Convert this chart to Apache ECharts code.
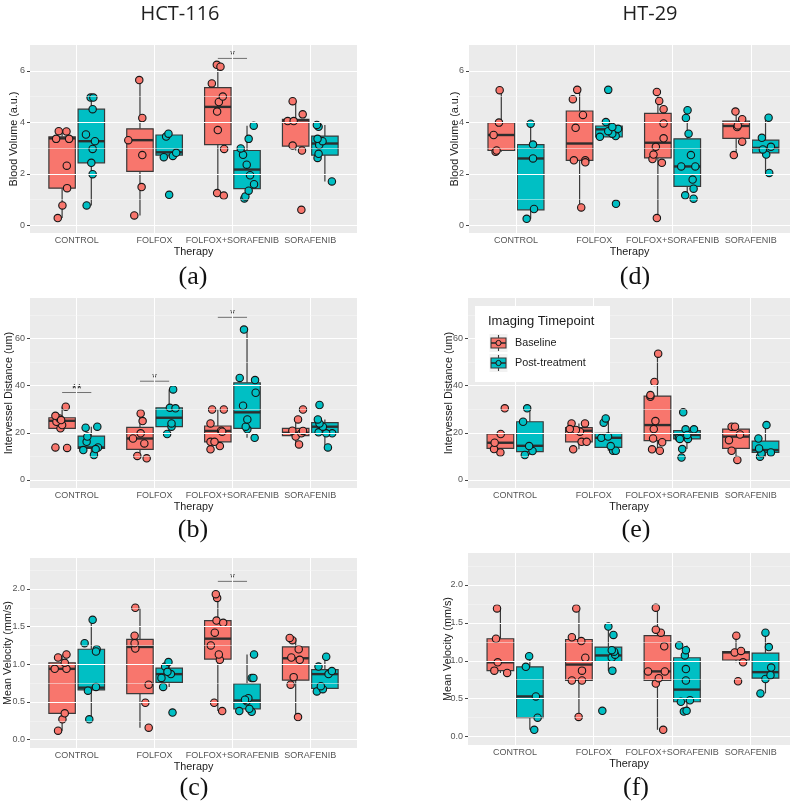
<!DOCTYPE html>
<html><head><meta charset="utf-8">
<script src="https://cdn.jsdelivr.net/npm/echarts@6/dist/echarts.min.js"></script>
<style>html,body{margin:0;padding:0;background:#fff}#c{width:801px;height:806px}</style>
</head><body><div id="c"></div><script>
const categories = ['CONTROL','FOLFOX','FOLFOX+SORAFENIB','SORAFENIB'];
const groups = ['Baseline','Post-treatment'];

const bloodTicks = [0,2,4,6];
const bloodMinor = [1,3,5];
const distTicks = [0,20,40,60];
const distMinor = [10,30,50,70];
const velTicks = [0,0.5,1,1.5,2];
const velMinor = [0.25,0.75,1.25,1.75,2.25];

// box stats per category: [lower whisker, Q1, median, Q3, upper whisker]
// points per category: [jitter (category units), value]

// (a) HCT-116 Blood Volume
const hctBloodBaseBox = [[0.29,1.45,3.38,3.44,3.66],[0.39,2.10,3.31,3.75,5.64],[1.16,3.14,4.60,5.35,6.23],[2.91,3.08,4.08,4.12,4.83]];
const hctBloodPostBox = [[0.78,2.43,3.27,4.51,4.96],[2.65,2.73,2.84,3.51,3.58],[1.05,1.43,2.17,2.91,3.87],[1.71,2.73,3.18,3.47,3.90]];
const hctBloodBasePts = [
 [[-0.056,0.29],[0.004,0.78],[0.064,1.45],[0.060,2.32],[-0.077,3.36],[-0.043,3.66],[0.056,3.65],[0.090,3.36]],
 [[-0.073,0.39],[0.021,1.49],[0.030,2.73],[-0.15,3.31],[0.030,4.17],[-0.009,5.64]],
 [[-0.009,1.26],[0.077,1.16],[0.081,2.97],[0,3.70],[-0.009,4.42],[0.013,4.79],[0.064,5.00],[-0.077,5.51],[-0.013,6.23],[0.034,6.16]],
 [[0.073,0.61],[0.081,2.91],[-0.039,3.10],[-0.103,4.05],[-0.026,4.05],[0.090,4.31],[-0.039,4.82]]
];
const hctBloodPostPts = [
 [[-0.060,0.78],[0.017,1.99],[0,2.43],[0.017,2.97],[0.047,3.27],[-0.069,3.53],[0.017,4.51],[-0.009,4.96],[0.026,4.96]],
 [[0,1.19],[-0.069,2.65],[0.047,2.70],[0.090,2.82],[-0.039,3.45],[-0.009,3.56]],
 [[-0.034,1.05],[-0.021,1.13],[0.021,1.35],[0.090,1.60],[0.039,1.95],[-0.004,2.36],[-0.051,2.74],[-0.081,2.99],[0.021,3.36],[0.086,3.87]],
 [[0.090,1.71],[-0.094,2.62],[-0.081,2.78],[-0.073,3.12],[-0.030,3.27],[-0.094,3.36],[-0.081,3.83],[-0.103,3.90]]
];
const hctBloodSig = [['FOLFOX+SORAFENIB',6.48,'*']];

// (d) HT-29 Blood Volume
const htBloodBaseBox = [[2.86,2.91,3.51,3.99,5.25],[0.70,2.53,3.18,4.44,5.29],[0.29,2.62,3.21,4.35,5.18],[2.73,3.38,3.86,4.05,4.44]];
const htBloodPostBox = [[0.26,0.61,2.60,3.14,3.95],[3.44,3.44,3.73,3.86,4.01],[1.04,1.52,2.29,3.36,4.47],[2.04,2.82,3.01,3.31,4.18]];
const htBloodBasePts = [
 [[-0.073,2.86],[-0.060,2.91],[-0.098,3.51],[-0.030,3.99],[-0.021,5.25]],
 [[0.021,0.70],[-0.073,2.53],[0.073,2.53],[0.073,2.45],[-0.051,3.79],[0.043,4.29],[-0.086,4.90],[-0.030,5.26]],
 [[-0.013,0.29],[0.051,2.43],[-0.069,2.58],[-0.056,2.75],[-0.026,3.05],[0.073,3.38],[0.073,3.96],[0.073,4.51],[0.017,4.83],[-0.013,5.18]],
 [[-0.030,2.73],[0.077,3.25],[0.013,3.82],[0.021,3.88],[0.077,4.12],[-0.009,4.42]]
];
const htBloodPostPts = [
 [[-0.051,0.26],[0.043,0.64],[0.030,2.60],[0.030,3.14],[0,3.95]],
 [[0.090,0.84],[-0.116,3.44],[0.086,3.47],[0.043,3.56],[-0.009,3.66],[0.116,3.75],[0.043,3.82],[-0.039,4.01],[-0.009,5.26]],
 [[0.081,1.04],[-0.026,1.17],[0.081,1.43],[0.069,1.78],[-0.077,2.29],[0.103,2.29],[0.047,2.73],[0.017,3.56],[-0.017,4.17],[0.004,4.47]],
 [[0.047,2.04],[0.009,2.75],[-0.034,2.95],[0.069,3.05],[-0.047,3.40],[0.039,4.18]]
];
const htBloodSig = [];

// (b) HCT-116 Intervessel Distance
const hctDistBaseBox = [[21.9,21.9,25.1,26.4,31.1],[9.2,13.0,17.6,22.3,28.2],[13.0,16.2,20.8,22.9,29.9],[15.1,18.8,20.0,21.9,25.7]];
const hctDistPostBox = [[10.6,13.4,13.8,18.6,22.6],[19.5,22.6,26.4,30.6,38.4],[17.9,21.9,28.7,41.2,63.8],[13.8,19.8,22.6,24.3,25.7]];
const hctDistBasePts = [
 [[-0.086,13.8],[0.064,13.6],[-0.021,21.9],[0,23.3],[-0.073,24.7],[-0.034,26.1],[-0.086,27.2],[0.047,31.1],[-0.013,25.4]],
 [[-0.034,10.2],[0.086,9.2],[0.056,15.5],[-0.090,17.6],[0.009,19.8],[0.034,25.0],[0.009,28.2]],
 [[-0.094,13.0],[0.026,14.4],[-0.094,16.2],[-0.043,16.2],[-0.094,24.0],[0.043,20.9],[0.056,20.5],[-0.073,29.9],[0.077,29.9]],
 [[0.043,15.1],[0,18.4],[0.073,19.8],[0.094,20.8],[-0.043,20.9],[0.030,25.7],[0.094,29.9]]
];
const hctDistPostPts = [
 [[0.034,10.6],[-0.103,12.7],[0.086,13.8],[0.056,13.1],[-0.060,16.2],[-0.051,18.4],[-0.073,22.2],[0.077,22.6]],
 [[-0.026,19.5],[0.030,22.6],[0.030,24.0],[0.009,30.6],[0.081,30.4],[0.051,38.4]],
 [[0.098,17.9],[0.004,21.5],[-0.017,22.6],[0.004,25.7],[-0.051,31.5],[-0.094,43.3],[0.103,42.4],[0.111,37.0],[-0.039,63.8]],
 [[0.039,13.8],[0.094,19.8],[0.017,19.8],[-0.081,20.2],[-0.026,22.6],[-0.069,24.0],[-0.090,25.7],[-0.069,31.8]]
];
const hctDistSig = [['CONTROL',37.1,'**'],['FOLFOX',41.9,'*'],['FOLFOX+SORAFENIB',69.0,'*']];

// (e) HT-29 Intervessel Distance
const htDistBaseBox = [[11.7,13.4,15.8,19.5,19.5],[13.0,16.2,20.9,22.2,24.0],[12.4,16.7,23.3,35.6,53.6],[8.5,13.4,18.4,21.6,22.6]];
const htDistPostBox = [[10.6,12.0,14.5,24.7,30.4],[12.4,13.8,17.9,19.8,26.1],[13.1,17.4,19.1,20.9,21.5],[9.9,11.7,12.7,16.5,23.3]];
const htDistBasePts = [
 [[0,11.7],[-0.081,13.1],[-0.073,15.8],[0.004,19.5],[0.056,30.4]],
 [[-0.073,13.0],[0.034,16.2],[0.098,16.2],[0.013,20.5],[-0.039,21.2],[-0.094,24.0],[0.077,24.0],[-0.116,21.6]],
 [[-0.069,13.0],[0.030,12.4],[0.060,16.0],[-0.056,17.6],[-0.047,21.6],[-0.026,25.0],[-0.039,41.6],[-0.090,35.3],[-0.090,36.0],[0.009,53.6]],
 [[0.017,8.5],[-0.056,12.4],[-0.090,16.9],[0.051,19.3],[-0.056,22.6],[-0.013,22.6]]
];
const htDistPostPts = [
 [[-0.064,10.6],[0.034,12.3],[-0.009,14.4],[-0.086,24.7],[-0.034,30.4]],
 [[0.060,12.4],[0.094,12.4],[0.030,14.4],[-0.090,17.9],[-0.004,18.4],[-0.060,24.3],[-0.034,26.1]],
 [[-0.069,9.5],[-0.060,13.1],[0.013,17.4],[-0.103,17.9],[-0.017,21.5],[0.090,21.5],[-0.047,28.7],[0.004,19.1],[-0.090,17.4]],
 [[-0.069,9.9],[-0.051,11.3],[0.069,11.7],[-0.081,13.4],[-0.090,17.6],[0.013,23.3]]
];
const htDistSig = [];

// (c) HCT-116 Mean Velocity
const hctVelBaseBox = [[0.12,0.35,0.94,1.02,1.13],[0.16,0.61,1.23,1.33,1.74],[0.38,1.07,1.34,1.58,1.93],[0.30,0.79,1.08,1.23,1.35]];
const hctVelPostBox = [[0.27,0.66,0.69,1.20,1.59],[0.70,0.76,0.87,0.95,1.03],[0.37,0.41,0.52,0.74,1.13],[0.64,0.68,0.87,0.93,1.10]];
const hctVelBasePts = [
 [[-0.052,0.12],[0.004,0.27],[0.034,0.35],[-0.095,0.94],[0.056,0.94],[0.034,1.02],[-0.052,1.09],[0.056,1.13]],
 [[0.112,0.16],[0.069,0.49],[0.112,0.73],[-0.060,1.21],[-0.069,1.28],[-0.069,1.38],[-0.060,1.75]],
 [[0.056,0.38],[-0.047,0.49],[0.026,1.06],[0.013,1.13],[-0.090,1.25],[-0.039,1.42],[-0.017,1.58],[0.069,1.55],[-0.009,1.88],[-0.026,1.93]],
 [[0.030,0.30],[-0.065,0.73],[-0.026,0.83],[0.052,1.06],[-0.056,1.09],[0.039,1.20],[-0.043,1.32],[-0.077,1.35]]
];
const hctVelPostPts = [
 [[-0.026,0.27],[-0.043,0.65],[0.060,0.70],[0.069,1.20],[0.060,1.17],[-0.086,1.28],[0.017,1.59]],
 [[0.043,0.36],[-0.077,0.70],[-0.099,0.82],[0.022,0.87],[-0.052,0.97],[-0.009,1.03],[-0.022,0.90]],
 [[-0.099,0.38],[0.060,0.37],[0.030,0.41],[-0.004,0.51],[0.017,0.55],[-0.026,0.53],[0.060,0.82],[0.082,0.82],[0.090,1.13]],
 [[-0.103,0.64],[-0.026,0.67],[-0.052,0.71],[-0.082,0.97],[0.047,0.87],[0.090,0.91],[0.017,1.10]]
];
const hctVelSig = [['FOLFOX+SORAFENIB',2.10,'*']];

// (f) HT-29 Mean Velocity
const htVelBaseBox = [[0.84,0.87,0.98,1.29,1.69],[0.26,0.74,0.95,1.28,1.69],[0.09,0.74,0.86,1.33,1.70],[0.98,1.01,1.11,1.12,1.33]];
const htVelPostBox = [[0.09,0.25,0.53,0.92,1.06],[0.87,0.99,1.07,1.18,1.45],[0.33,0.46,0.62,1.04,1.20],[0.57,0.77,0.85,1.10,1.37]];
const htVelBasePts = [
 [[-0.077,0.87],[0.086,0.84],[-0.034,0.98],[-0.056,1.29],[-0.043,1.69]],
 [[-0.004,0.26],[-0.090,0.74],[0.039,0.74],[0.039,0.87],[0.081,1.04],[0.030,1.26],[-0.090,1.31],[-0.034,1.69]],
 [[0.073,0.09],[-0.021,0.70],[0.017,0.77],[-0.120,0.86],[0.094,0.86],[0.086,1.19],[0.043,1.37],[-0.021,1.41],[-0.021,1.70]],
 [[0.026,0.73],[0.090,0.98],[-0.017,1.11],[0.064,1.13],[0.004,1.33]]
];
const htVelPostPts = [
 [[0.056,0.09],[0.099,0.25],[0.077,0.53],[-0.051,0.92],[-0.009,1.06]],
 [[-0.077,0.34],[0.051,0.87],[0.043,1.04],[0.086,1.08],[0.073,1.12],[0.043,1.14],[0.064,1.34],[0,1.45]],
 [[-0.039,0.33],[-0.004,0.34],[-0.077,0.46],[0.039,0.48],[-0.013,0.74],[-0.013,0.89],[-0.026,1.07],[-0.013,1.14],[-0.099,1.20]],
 [[-0.064,0.57],[0,0.76],[0.064,0.81],[0.073,0.91],[0.043,1.18],[0,1.37]]
];
const htVelSig = [];

// ---------- styling / layout ----------
const DODGE = 0.1875, BOXW = 0.34;
const COLORS = ['#F8766D', '#00BFC4'];
const EDGE = '#3a3a3a';
const SANS = 'Liberation Sans, Arial, sans-serif';

const panels = [
 {grid:{left:30,top:45,width:327,height:188}, xmax:4.6, ymin:-0.29, ymax:7.0, ticks:bloodTicks, minor:bloodMinor, dec:0,
  ytitle:'Blood Volume (a.u.)', tx:14, base:[hctBloodBaseBox,hctBloodBasePts], post:[hctBloodPostBox,hctBloodPostPts], sig:hctBloodSig, label:'(a)', lx:193, ly:277},
 {grid:{left:469,top:45,width:321,height:188}, xmax:4.5, ymin:-0.29, ymax:7.0, ticks:bloodTicks, minor:bloodMinor, dec:0,
  ytitle:'Blood Volume (a.u.)', tx:455, base:[htBloodBaseBox,htBloodBasePts], post:[htBloodPostBox,htBloodPostPts], sig:htBloodSig, label:'(d)', lx:635, ly:277},
 {grid:{left:30,top:298,width:327,height:190}, xmax:4.6, ymin:-3.4, ymax:77.2, ticks:distTicks, minor:distMinor, dec:0,
  ytitle:'Intervessel Distance (um)', tx:9, base:[hctDistBaseBox,hctDistBasePts], post:[hctDistPostBox,hctDistPostPts], sig:hctDistSig, label:'(b)', lx:193, ly:530},
 {grid:{left:468,top:298,width:322,height:190}, xmax:4.5, ymin:-3.4, ymax:77.2, ticks:distTicks, minor:distMinor, dec:0,
  ytitle:'Intervessel Distance (um)', tx:449, base:[htDistBaseBox,htDistBasePts], post:[htDistPostBox,htDistPostPts], sig:htDistSig, label:'(e)', lx:636, ly:530},
 {grid:{left:30,top:558,width:327,height:190}, xmax:4.6, ymin:-0.11, ymax:2.41, ticks:velTicks, minor:velMinor, dec:1,
  ytitle:'Mean Velocity (mm/s)', tx:8, base:[hctVelBaseBox,hctVelBasePts], post:[hctVelPostBox,hctVelPostPts], sig:hctVelSig, label:'(c)', lx:194, ly:788},
 {grid:{left:468,top:553,width:322,height:192}, xmax:4.5, ymin:-0.11, ymax:2.42, ticks:velTicks, minor:velMinor, dec:1,
  ytitle:'Mean Velocity (mm/s)', tx:448, base:[htVelBaseBox,htVelBasePts], post:[htVelPostBox,htVelPostPts], sig:htVelSig, label:'(f)', lx:636, ly:788}
];

const option = {animation:false, grid:[], xAxis:[], yAxis:[], series:[], graphic:[]};

function boxSeries(g, stats, gi) {
  const off = gi === 0 ? -DODGE : DODGE;
  return {
    type:'custom', name:groups[gi], xAxisIndex:g, yAxisIndex:g, z:3, silent:true,
    data: stats.map((s, i) => [i + 1 + off].concat(s)),
    encode:{x:0, y:[1,2,3,4,5]},
    renderItem:(params, api) => {
      const x = api.value(0);
      const lo = api.coord([x, api.value(1)]);
      const q1 = api.coord([x, api.value(2)]);
      const md = api.coord([x, api.value(3)]);
      const q3 = api.coord([x, api.value(4)]);
      const hi = api.coord([x, api.value(5)]);
      const hw = api.size([BOXW, 0])[0] / 2;
      const cx = q1[0];
      const ls = {stroke:EDGE, lineWidth:1.2};
      return {type:'group', children:[
        {type:'line', shape:{x1:cx,y1:q3[1],x2:cx,y2:hi[1]}, style:ls},
        {type:'line', shape:{x1:cx,y1:q1[1],x2:cx,y2:lo[1]}, style:ls},
        {type:'rect', shape:{x:cx-hw,y:q3[1],width:2*hw,height:q1[1]-q3[1]}, style:{fill:COLORS[gi], stroke:EDGE, lineWidth:1.2}},
        {type:'line', shape:{x1:cx-hw,y1:md[1],x2:cx+hw,y2:md[1]}, style:{stroke:'#2e2e2e', lineWidth:2.4}}
      ]};
    }
  };
}

function pointSeries(g, pts, gi) {
  const off = gi === 0 ? -DODGE : DODGE;
  const data = [];
  pts.forEach((arr, i) => arr.forEach(p => data.push([i + 1 + off + p[0], p[1]])));
  return {
    type:'scatter', name:groups[gi], xAxisIndex:g, yAxisIndex:g, z:4, silent:true,
    symbol:'circle', symbolSize:7.4, data,
    itemStyle:{color:COLORS[gi], borderColor:'#151515', borderWidth:1.1, opacity:1},
    emphasis:{disabled:true}
  };
}

function sigSeries(g, sig) {
  return {
    type:'custom', xAxisIndex:g, yAxisIndex:g, z:4, silent:true,
    data: sig.map(s => { const c = categories.indexOf(s[0]) + 1; return [c - DODGE, c + DODGE, s[1]]; }),
    encode:{x:[0,1], y:2},
    renderItem:(params, api) => {
      const a = api.coord([api.value(0), api.value(2)]);
      const b = api.coord([api.value(1), api.value(2)]);
      return {type:'group', children:[
        {type:'line', shape:{x1:a[0],y1:a[1],x2:b[0],y2:b[1]}, style:{stroke:'#707070', lineWidth:1}},
        {type:'text', x:(a[0]+b[0])/2, y:a[1]-3, style:{text:sig[params.dataIndex][2], fill:'#222', font:'13px ' + SANS, align:'center', verticalAlign:'middle'}}
      ]};
    }
  };
}

panels.forEach((p, g) => {
  option.grid.push(Object.assign({show:true, backgroundColor:'#EBEBEB', borderWidth:0}, p.grid));
  option.xAxis.push({
    gridIndex:g, type:'value', min:0.4, max:p.xmax,
    axisLine:{show:false},
    axisTick:{show:true, length:3, customValues:[1,2,3,4], lineStyle:{color:'#444', width:1}},
    axisLabel:{customValues:[1,2,3,4], formatter:v => categories[Math.round(v)-1], color:'#555', fontSize:9, margin:3, fontFamily:SANS},
    splitLine:{show:false},
    name:'Therapy', nameLocation:'middle', nameGap:14,
    nameTextStyle:{color:'#1a1a1a', fontSize:10.8, fontFamily:SANS}
  });
  option.yAxis.push({
    gridIndex:g, type:'value', min:p.ymin, max:p.ymax,
    axisLine:{show:false},
    axisTick:{show:true, length:3, customValues:p.ticks, lineStyle:{color:'#444', width:1}},
    axisLabel:{customValues:p.ticks, formatter:v => v.toFixed(p.dec), color:'#555', fontSize:9, margin:5, fontFamily:SANS},
    splitLine:{show:false}
  });
  const gl = [];
  [1,2,3,4].forEach(v => gl.push({xAxis:v, lineStyle:{color:'#ffffff', width:1.1, type:'solid'}}));
  p.ticks.forEach(v => gl.push({yAxis:v, lineStyle:{color:'#ffffff', width:1.1, type:'solid'}}));
  p.minor.forEach(v => gl.push({yAxis:v, lineStyle:{color:'#f7f7f7', width:0.5, type:'solid'}}));
  option.series.push({
    type:'line', xAxisIndex:g, yAxisIndex:g, data:[], z:1, silent:true,
    markLine:{silent:true, symbol:['none','none'], label:{show:false}, emphasis:{disabled:true}, animation:false, data:gl}
  });
  option.series.push(boxSeries(g, p.base[0], 0));
  option.series.push(boxSeries(g, p.post[0], 1));
  option.series.push(pointSeries(g, p.base[1], 0));
  option.series.push(pointSeries(g, p.post[1], 1));
  if (p.sig.length) option.series.push(sigSeries(g, p.sig));
  option.graphic.push({type:'text', z:50, x:p.tx, y:p.grid.top + p.grid.height/2, rotation:Math.PI/2,
    style:{text:p.ytitle, fill:'#1a1a1a', font:'10.8px ' + SANS, align:'center', verticalAlign:'middle'}});
  option.graphic.push({type:'text', z:50, x:p.lx, y:p.ly,
    style:{text:p.label, fill:'#111', font:'26px Liberation Serif, Times New Roman, serif', align:'center', verticalAlign:'middle'}});
});

// column titles
option.graphic.push({type:'text', z:50, x:180, y:14, style:{text:'HCT-116', fill:'#1f1f1f', font:'20px Open Sans, sans-serif', align:'center', verticalAlign:'middle'}});
option.graphic.push({type:'text', z:50, x:650, y:14, style:{text:'HT-29', fill:'#1f1f1f', font:'20px Open Sans, sans-serif', align:'center', verticalAlign:'middle'}});

// legend (panel e)
const legend = {type:'group', z:100, children:[
  {type:'rect', z:100, shape:{x:475, y:306, width:135, height:76}, style:{fill:'#ffffff'}},
  {type:'text', z:101, x:488, y:321, style:{text:'Imaging Timepoint', fill:'#1a1a1a', font:'13px ' + SANS, verticalAlign:'middle'}}
]};
groups.forEach((name, i) => {
  const cy = 343 + i * 20, cx = 498.5;
  legend.children.push(
    {type:'rect', z:101, shape:{x:cx-9, y:cy-9, width:18, height:18}, style:{fill:'#F2F2F2'}},
    {type:'line', z:102, shape:{x1:cx, y1:cy-8, x2:cx, y2:cy+8}, style:{stroke:EDGE, lineWidth:1.1}},
    {type:'rect', z:103, shape:{x:cx-7.5, y:cy-5, width:15, height:10}, style:{fill:COLORS[i], stroke:EDGE, lineWidth:1.1}},
    {type:'line', z:104, shape:{x1:cx-7.5, y1:cy, x2:cx+7.5, y2:cy}, style:{stroke:'#2e2e2e', lineWidth:1.6}},
    {type:'circle', z:105, shape:{cx:cx, cy:cy, r:2.6}, style:{fill:COLORS[i], stroke:'#151515', lineWidth:1}},
    {type:'text', z:101, x:515, y:cy, style:{text:name, fill:'#1a1a1a', font:'10.8px ' + SANS, verticalAlign:'middle'}}
  );
});
option.graphic.push(legend);

const chart = echarts.init(document.getElementById('c'), null, {renderer:'canvas'});
chart.setOption(option);
</script></body></html>
